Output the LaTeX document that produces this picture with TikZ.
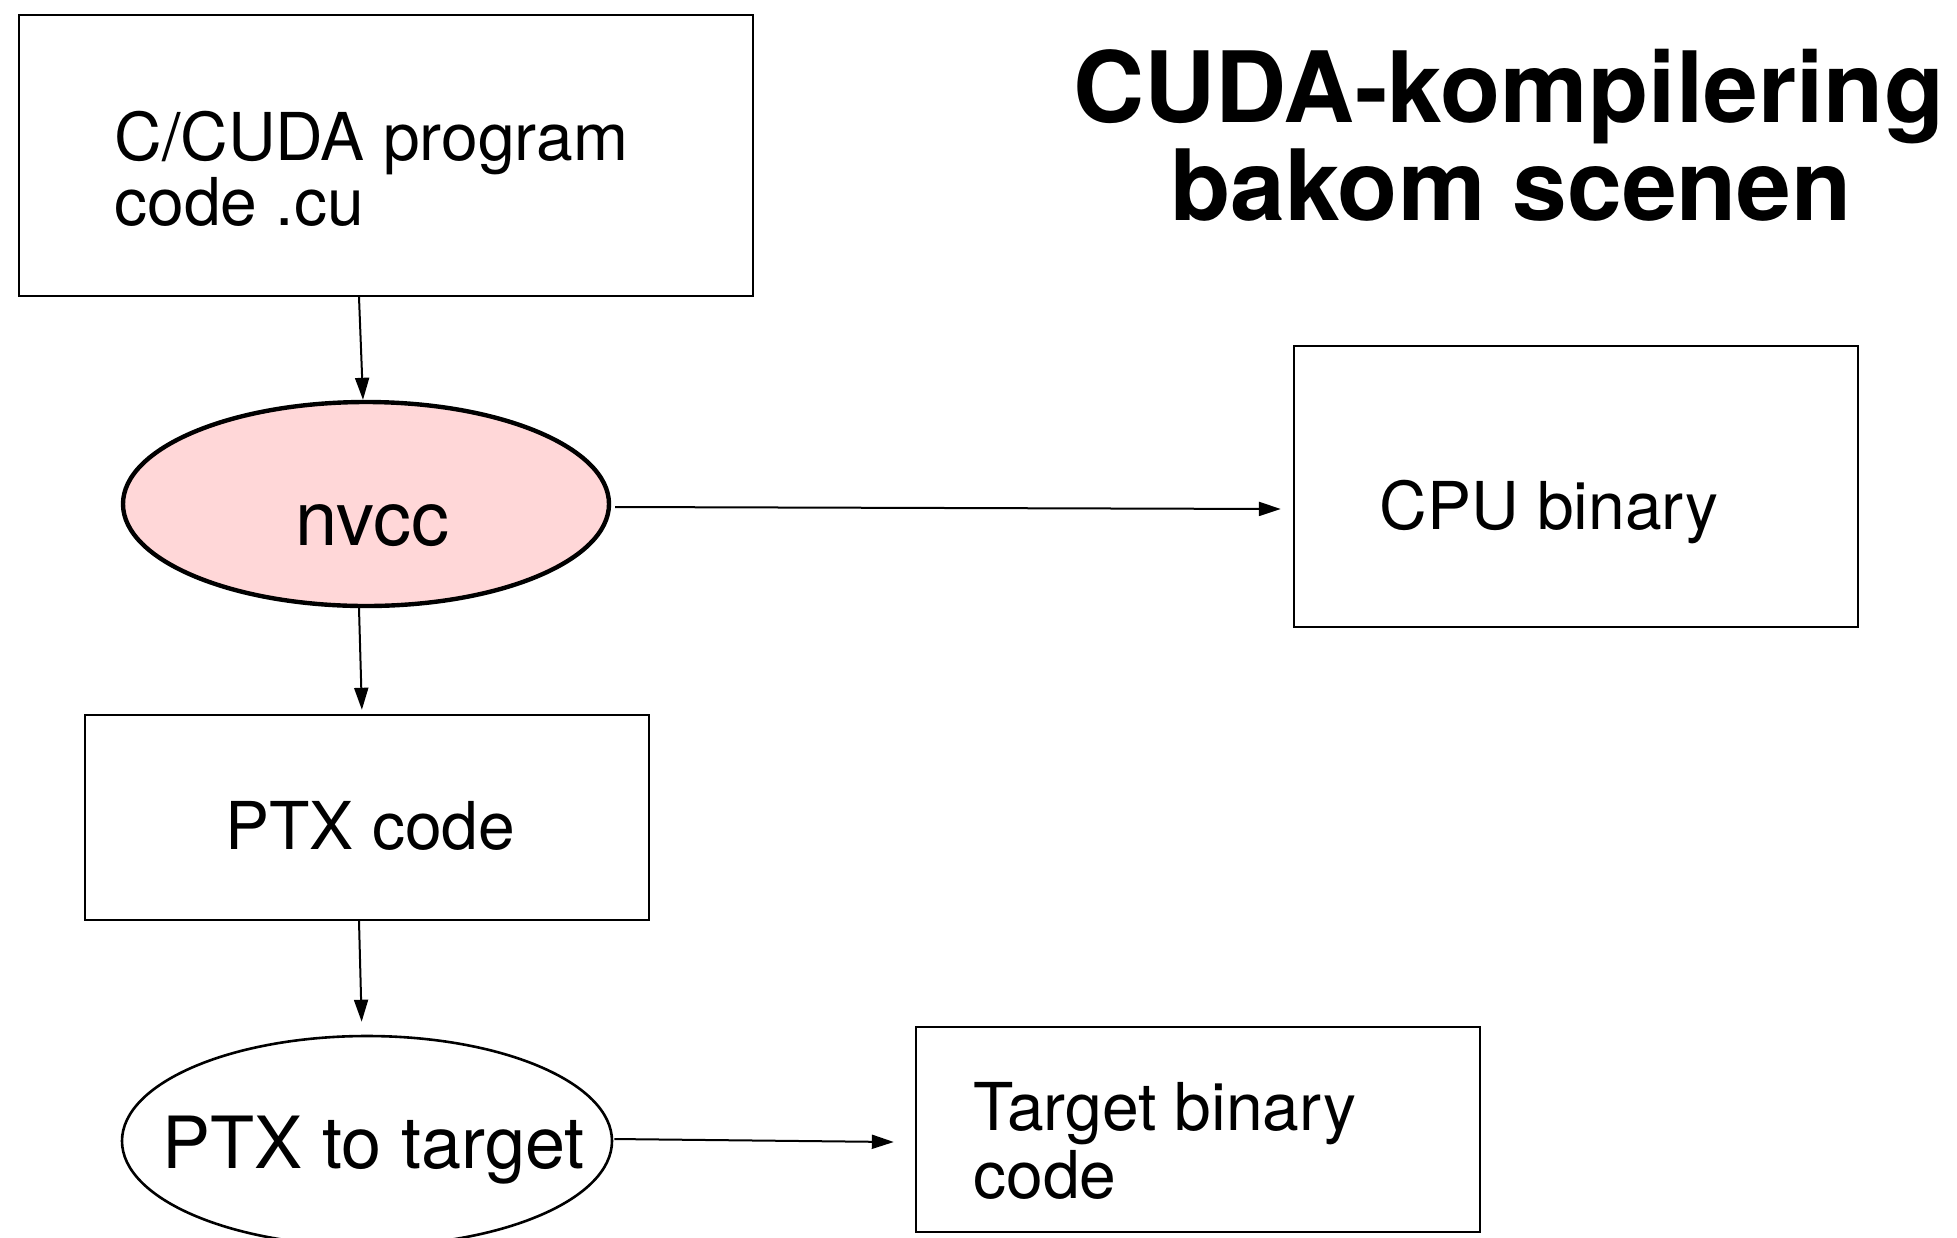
\documentclass[tikz,border=0pt]{standalone}
\usepackage{fontspec}
\setmainfont{TeX Gyre Heros}
\usetikzlibrary{shapes.geometric,arrows.meta}
\definecolor{nvccpink}{HTML}{FFD7D8}
\tikzset{
  box/.style={draw=black, line width=1.2pt, rectangle, inner sep=0pt},
  oval/.style={draw=black, ellipse, inner sep=0pt},
  label/.style={inner sep=0pt, font=\fontsize{33pt}{32.5pt}\selectfont, align=left},
  flow/.style={line width=1pt, -{Triangle[length=11pt, width=7pt]}},
}
\begin{document}
\begin{tikzpicture}[x=0.5pt, y=-0.5pt]
  \clip (0,0) rectangle (1957,1237);
  \fill[white] (0,0) rectangle (1957,1237);

  % boxes and ellipses
  \node[box, minimum width=367pt, minimum height=140.5pt] (src) at (386,155.5) {};
  \node[box, minimum width=282pt, minimum height=140.5pt] (cpu) at (1576,486.5) {};
  \node[box, minimum width=282pt, minimum height=102.5pt] (ptx) at (367,817.5) {};
  \node[box, minimum width=282pt, minimum height=102.5pt] (tgt) at (1198,1129.5) {};
  \node[oval, fill=nvccpink, line width=2.2pt, minimum width=243pt, minimum height=102pt] (nvcc) at (366,504) {};
  \node[oval, line width=1.3pt, minimum width=245pt, minimum height=105pt] (ptxt) at (367,1141) {};

  % texts
  \node[label, anchor=base west] (srct1) at (114,160) {C/CUDA program};
  \node[label, anchor=base west] (srct2) at (114,225) {code .cu};
  \node[label, anchor=base, font=\fontsize{38pt}{38pt}\selectfont] (nvcct) at (372,545) {nvcc};
  \node[label, anchor=base west] (cput) at (1379,529) {CPU binary};
  \node[label, anchor=base west] (ptxlbl) at (225,849) {PTX code};
  \node[label, anchor=base west, font=\fontsize{36pt}{36pt}\selectfont] (ptxtt) at (162,1168) {PTX to target};
  \node[label, anchor=base west] (tgtt1) at (973,1130) {Target binary};
  \node[label, anchor=base west] (tgtt2) at (973,1198) {code};

  % title
  \node[inner sep=0pt, anchor=base, font=\fontsize{49.2pt}{49pt}\selectfont\bfseries] (title1) at (1509,122) {CUDA-kompilering};
  \node[inner sep=0pt, anchor=base, font=\fontsize{49.2pt}{49pt}\selectfont\bfseries] (title2) at (1511,220) {bakom scenen};

  % connectors
  \draw[flow] ([xshift=-13.5pt]src.south) -- ([xshift=-1.5pt]nvcc.north);
  \draw[flow] ([xshift=2pt,yshift=-1.5pt]nvcc.east) -- ([xshift=-6pt,yshift=-11.25pt]cpu.west);
  \draw[flow, shorten >=2pt] ([xshift=-3.5pt]nvcc.south) -- ([xshift=-2.5pt]ptx.north);
  \draw[flow, shorten >=6.5pt] ([xshift=-4pt]ptx.south) -- ([xshift=-2.5pt]ptxt.north);
  \draw[flow] ([xshift=0.5pt,yshift=1pt]ptxt.east) -- ([xshift=-10.5pt,yshift=-6.25pt]tgt.west);
\end{tikzpicture}
\end{document}
